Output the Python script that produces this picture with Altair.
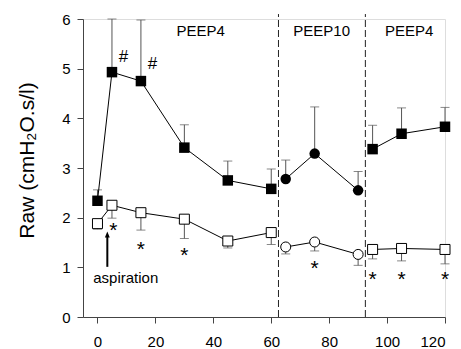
import altair as alt
import pandas as pd

# Time (min)
times = [0, 5, 15, 30, 45, 60, 65, 75, 90, 95, 105, 120]
segment = [1, 1, 1, 1, 1, 1, 2, 2, 2, 3, 3, 3]
shapes = ["square"] * 6 + ["circle"] * 3 + ["square"] * 3

# Filled series (upper)
filled_y = [2.34, 4.93, 4.75, 3.41, 2.75, 2.58, 2.78, 3.29, 2.55, 3.38, 3.69, 3.83]
filled_err_top = [2.56, 6.0, 5.98, 3.87, 3.14, 2.98, 3.16, 4.23, 2.93, 3.86, 4.21, 4.22]

# Open series (lower)
open_y = [1.88, 2.25, 2.10, 1.97, 1.53, 1.70, 1.41, 1.51, 1.26, 1.36, 1.38, 1.36]
open_err_low = [1.77, 1.99, 1.75, 1.58, 1.39, 1.46, 1.27, 1.33, 1.04, 1.17, 1.13, 1.07]

# Annotations
star_x = [5.5, 15, 30, 75, 95, 105, 120]
star_y = [1.74, 1.35, 1.22, 0.97, 0.75, 0.75, 0.74]
hash_x = [9.0, 19.0]
hash_y = [5.24, 5.09]
phase_labels = ["PEEP4", "PEEP10", "PEEP4"]
phase_x = [35.6, 77.4, 107.6]
phase_y = [5.76, 5.76, 5.76]
divider_x = [62.5, 92.5]

FONT = "Liberation Sans"

df = pd.DataFrame({
    "t": times, "seg": segment, "shape": shapes,
    "fy": filled_y, "ftop": filled_err_top,
    "oy": open_y, "olow": open_err_low,
})

xs = alt.Scale(domain=[-5, 120], nice=False, zero=False)
ys = alt.Scale(domain=[0, 6], nice=False)

x_axis = alt.Axis(values=[0, 20, 40, 60, 80, 100, 120], title=None, grid=False,
                  tickSize=6, labelPadding=11, labelFontSize=15, labelFont=FONT,
                  domainColor="#444", tickColor="#444", labelColor="black")
y_axis = alt.Axis(values=[0, 1, 2, 3, 4, 5, 6], title="Raw (cmH₂O.s/l)", grid=False,
                  tickSize=6, labelPadding=7, labelFontSize=15, labelFont=FONT,
                  titleFont=FONT, titleFontSize=21, titleFontWeight="normal",
                  titleAngle=-90, titleAlign="center", titleBaseline="middle",
                  titleX=-56, titleY=141, titleColor="black",
                  domainColor="#444", tickColor="#444", labelColor="black")

base = alt.Chart(df)
X = alt.X("t:Q", scale=xs, axis=x_axis)

err_col = "#555"

f_rule = base.mark_rule(color=err_col, strokeWidth=1).encode(
    x=X, y=alt.Y("fy:Q", scale=ys, axis=y_axis), y2="ftop:Q")
f_cap = base.mark_tick(color=err_col, orient="horizontal", size=9, thickness=1).encode(
    x="t:Q", y="ftop:Q")
o_rule = base.mark_rule(color=err_col, strokeWidth=1).encode(
    x="t:Q", y="oy:Q", y2="olow:Q")
o_cap = base.mark_tick(color=err_col, orient="horizontal", size=9, thickness=1).encode(
    x="t:Q", y="olow:Q")

f_line = base.mark_line(color="black", strokeWidth=1).encode(
    x="t:Q", y="fy:Q", detail="seg:N")
o_line = base.mark_line(color="black", strokeWidth=1).encode(
    x="t:Q", y="oy:Q", detail="seg:N")

shape_scale = alt.Scale(domain=["square", "circle"], range=["square", "circle"])
f_pts = base.mark_point(filled=True, color="black", opacity=1, size=110).encode(
    x="t:Q", y="fy:Q", shape=alt.Shape("shape:N", scale=shape_scale, legend=None))
o_pts = base.mark_point(filled=True, fill="white", stroke="black", strokeWidth=1,
                        opacity=1, size=100).encode(
    x="t:Q", y="oy:Q", shape=alt.Shape("shape:N", scale=shape_scale, legend=None))

div_df = pd.DataFrame({"x": divider_x, "y0": [0] * 2, "y1": [6.1] * 2})
dividers = alt.Chart(div_df).mark_rule(color="#222", strokeWidth=1, strokeDash=[7, 3],
                                        clip=False).encode(
    x="x:Q", y="y0:Q", y2="y1:Q")

star_df = pd.DataFrame({"x": star_x, "y": star_y, "s": ["*"] * len(star_x)})
stars = alt.Chart(star_df).mark_text(fontSize=21, font=FONT, baseline="middle",
                                     align="center", color="black").encode(
    x="x:Q", y="y:Q", text="s:N")

hash_df = pd.DataFrame({"x": hash_x, "y": hash_y, "s": ["#"] * len(hash_x)})
hashes = alt.Chart(hash_df).mark_text(fontSize=17, font=FONT, baseline="middle",
                                      align="center", color="black").encode(
    x="x:Q", y="y:Q", text="s:N")

phase_df = pd.DataFrame({"x": phase_x, "y": phase_y, "s": phase_labels})
phases = alt.Chart(phase_df).mark_text(fontSize=15, font=FONT, baseline="middle",
                                       align="center", color="black").encode(
    x="x:Q", y="y:Q", text="s:N")

asp_df = pd.DataFrame({"x": [9.75], "y": [0.79], "s": ["aspiration"]})
asp_text = alt.Chart(asp_df).mark_text(fontSize=15, font=FONT, baseline="middle",
                                       align="center", color="black").encode(
    x="x:Q", y="y:Q", text="s:N")

arrow_df = pd.DataFrame({"x": [3.4], "y0": [1.01], "y1": [1.62], "yh": [1.66]})
arrow_shaft = alt.Chart(arrow_df).mark_rule(color="black", strokeWidth=2).encode(
    x="x:Q", y="y0:Q", y2="y1:Q")
arrow_head = alt.Chart(arrow_df).mark_point(
    shape="M-0.4,0.5L0,-0.5L0.4,0.5Z", filled=True, color="black", opacity=1,
    size=150).encode(x="x:Q", y="yh:Q")

chart = alt.layer(
    dividers, f_rule, f_cap, o_rule, o_cap, f_line, o_line, f_pts, o_pts,
    stars, hashes, phases, asp_text, arrow_shaft, arrow_head
).properties(
    width=362, height=298,
    padding={"left": 75, "top": 11, "right": 8, "bottom": 32},
    autosize="none",
).configure_view(stroke=None).configure(background="white")

chart.save("out.html", embed_options={"renderer": "svg", "actions": False})
